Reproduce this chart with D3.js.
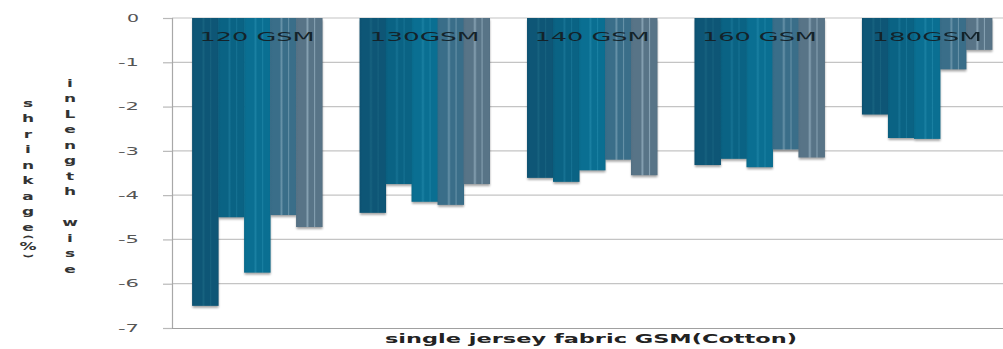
<!DOCTYPE html>
<html>
<head>
<meta charset="utf-8">
<script src="https://cdn.jsdelivr.net/npm/d3@7"></script>
<style>
  html, body { margin: 0; padding: 0; background: #fff; }
  svg { display: block; }
  text { font-family: "DejaVu Sans", sans-serif; }
</style>
</head>
<body>
<svg id="chart" width="1003" height="349"></svg>
<script>
// Fabric groups (GSM) and the five shrinkage readings per group
const categories = ["120 GSM", "130GSM", "140 GSM", "160 GSM", "180GSM"];
const seriesNames = ["s1", "s2", "s3", "s4", "s5"];
const s1 = [-6.5, -4.4, -3.61, -3.32, -2.18];
const s2 = [-4.5, -3.75, -3.7, -3.18, -2.71];
const s3 = [-5.75, -4.15, -3.44, -3.37, -2.73];
const s4 = [-4.45, -4.22, -3.2, -2.97, -1.16];
const s5 = [-4.72, -3.75, -3.55, -3.15, -0.72];
const yTicks = [0, -1, -2, -3, -4, -5, -6, -7];
const yTitleLeft = "shrinkage(%)";
const yTitleRight = "inLength wise";
const xTitle = "single jersey fabric GSM(Cotton)";

const seriesValues = [s1, s2, s3, s4, s5];

// Per-series shading: base, slightly darker edge, light stripe
const palette = [
  { base: "#0e5676", edge: "#0c5070", light: "#17627f" },
  { base: "#0a6384", edge: "#095d7d", light: "#167293" },
  { base: "#0a6f92", edge: "#096a8b", light: "#1a80a2" },
  { base: "#3a6e89", edge: "#366a85", light: "#6792a8" },
  { base: "#587487", edge: "#547083", light: "#86a1b2" }
];

const svg = d3.select("#chart");
const defs = svg.append("defs");

palette.forEach((c, i) => {
  const g = defs.append("linearGradient")
    .attr("id", "grad" + i)
    .attr("x1", "0").attr("x2", "1").attr("y1", "0").attr("y2", "0");
  const stops = [
    [0, c.edge], [0.1, c.base], [0.36, c.base], [0.43, c.light],
    [0.5, c.base], [0.66, c.base], [0.7, c.light], [0.74, c.base],
    [0.94, c.base], [1, c.edge]
  ];
  stops.forEach(([o, col]) => g.append("stop").attr("offset", o).attr("stop-color", col));
});

const blur = defs.append("filter").attr("id", "soft")
  .attr("x", "-20%").attr("y", "-10%").attr("width", "140%").attr("height", "120%");
blur.append("feGaussianBlur").attr("stdDeviation", 1.3);

const plotLeft = 172, plotTop = 18, plotBottom = 328, plotRight = 1012;

const y = d3.scaleLinear().domain([-7, 0]).range([plotBottom, plotTop]);
const x0 = d3.scaleBand().domain(categories).range([plotLeft, plotRight])
  .paddingInner(0.224).paddingOuter(0.12);
const x1 = d3.scaleBand().domain(seriesNames).range([0, x0.bandwidth()]).padding(0);

// Horizontal gridlines
svg.append("g").selectAll("line").data(yTicks.filter(t => t !== -7)).join("line")
  .attr("x1", plotLeft).attr("x2", 1003)
  .attr("y1", d => y(d)).attr("y2", d => y(d))
  .attr("stroke", "#c4c4c4").attr("stroke-width", 1.2);

// Left axis with outward ticks
const yAxis = svg.append("g").attr("transform", `translate(${plotLeft},0)`)
  .call(d3.axisLeft(y).tickValues(yTicks).tickSize(9).tickPadding(24)
    .tickFormat(d => d === 0 ? "0" : "-" + Math.abs(d)));
yAxis.select(".domain").attr("stroke", "#a8a8a8").attr("stroke-width", 1.2);
yAxis.selectAll(".tick line").attr("stroke", "#b8b8b8").attr("stroke-width", 1.2);
yAxis.selectAll(".tick text")
  .attr("fill", "#555").attr("font-size", 10)
  .attr("textLength", d => d === 0 ? 12 : 21)
  .attr("lengthAdjust", "spacingAndGlyphs");

// Bottom baseline
svg.append("line").attr("x1", plotLeft).attr("x2", 1003)
  .attr("y1", plotBottom + 0.5).attr("y2", plotBottom + 0.5)
  .attr("stroke", "#a0a0a0").attr("stroke-width", 1.2);

const barData = (cat, ci) => seriesNames.map((s, si) => ({ s, si, v: seriesValues[si][ci] }));

// Soft shadows sit in their own layer beneath all bars
const shadowLayer = svg.append("g").attr("filter", "url(#soft)").attr("opacity", 0.35);
shadowLayer.selectAll("g").data(categories).join("g")
  .attr("transform", d => `translate(${x0(d)},0)`)
  .selectAll("rect").data(barData).join("rect")
  .attr("x", d => x1(d.s) + 0.5)
  .attr("width", x1.bandwidth())
  .attr("y", y(0) + 2)
  .attr("height", d => y(d.v) - y(0))
  .attr("fill", "#000");

// Bars: from zero down to each value
const groups = svg.append("g").selectAll("g").data(categories).join("g")
  .attr("transform", d => `translate(${x0(d)},0)`);

groups.selectAll("rect").data(barData).join("rect")
  .attr("x", d => x1(d.s))
  .attr("width", x1.bandwidth() + 0.5)
  .attr("y", y(0))
  .attr("height", d => y(d.v) - y(0))
  .attr("fill", d => `url(#grad${d.si})`);

// Group labels inside the bars
groups.append("text")
  .attr("x", x0.bandwidth() / 2)
  .attr("y", 40.5)
  .attr("text-anchor", "middle")
  .attr("font-size", 12)
  .attr("fill", "#14232a")
  .attr("textLength", d => d.includes(" ") ? 115 : 110)
  .attr("lengthAdjust", "spacingAndGlyphs")
  .text(d => d);

// Stacked vertical axis title (two columns of upright letters)
function stacked(str, cx, positions) {
  const g = svg.append("g");
  Array.from(str).forEach((ch, i) => {
    if (ch === " ") return;
    const cy = positions[i];
    const rot = (ch === "(" || ch === ")") ? 90 : 0;
    g.append("text")
      .attr("transform", `translate(${cx},${cy}) rotate(${rot}) scale(${rot ? 1 : 1.7},1)`)
      .attr("text-anchor", "middle")
      .attr("dominant-baseline", "central")
      .attr("font-size", 10)
      .attr("font-weight", "bold")
      .attr("fill", "#333")
      .text(ch);
  });
}
const leftPos = Array.from(yTitleLeft).map((ch, i) => i < 9 ? 103 + i * 15.5 : [237, 246, 256][i - 9]);
const rightPos = Array.from(yTitleRight).map((ch, i) => 83 + i * 15.5);
stacked(yTitleLeft, 28, leftPos);
stacked(yTitleRight, 70, rightPos);

// Category axis title
svg.append("text")
  .attr("x", 591).attr("y", 343)
  .attr("text-anchor", "middle")
  .attr("font-size", 11.5)
  .attr("font-weight", "bold")
  .attr("fill", "#222")
  .attr("textLength", 412)
  .attr("lengthAdjust", "spacingAndGlyphs")
  .text(xTitle);
</script>
</body>
</html>
